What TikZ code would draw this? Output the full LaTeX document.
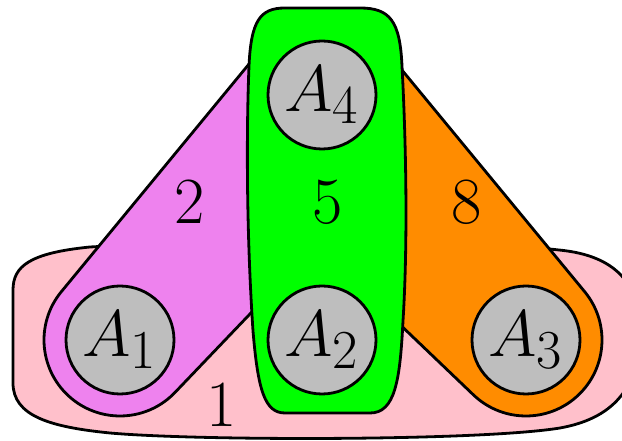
\documentclass[tikz,border=0pt]{standalone}
\usepackage{graphicx}
\definecolor{pinkfill}{RGB}{255,192,203}
\definecolor{violetfill}{RGB}{238,130,238}
\definecolor{greenfill}{RGB}{0,255,0}
\definecolor{orangefill}{RGB}{255,140,0}
\definecolor{vertfill}{RGB}{190,190,190}
\newcommand{\bigtxt}[1]{\scalebox{2.65}{\Huge #1}}
\tikzset{
  edgeshape/.style={draw=black, line width=2.8pt, line join=round},
  vert/.style={circle, draw=black, fill=vertfill, line width=2.8pt, minimum size=108pt, inner sep=0pt},
  elabel/.style={inner sep=0pt}
}
\begin{document}
\begin{tikzpicture}[x=1pt,y=1pt]
\useasboundingbox (0,0) rectangle (622,441);
% hyperedge 1 (pink)
\draw[edgeshape, fill=pinkfill] (13,58) -- (13,151)
  .. controls (13,175) and (30,188) .. (90,194)
  .. controls (250,203) and (450,203) .. (559,191)
  .. controls (600,187) and (640,170) .. (640,110)
  .. controls (640,50) and (610,22) .. (560,13)
  .. controls (480,0) and (200,0) .. (110,8)
  .. controls (50,14) and (13,25) .. (13,58) -- cycle;
% hyperedge 2 (violet)
\draw[edgeshape, fill=violetfill] (120,101) ++(140.6:76)
  arc[start angle=140.6, end angle=316.3, radius=76]
  -- ++(46.3:180) -- (300,400) -- (268,400) -- cycle;
% hyperedge 8 (orange)
\draw[edgeshape, fill=orangefill] (526,101) ++(226.5:76)
  arc[start angle=226.5, end angle=399.4, radius=76]
  -- (378,400) -- (345,400) -- (345,169) -- cycle;
% hyperedge 5 (green)
\draw[edgeshape, fill=greenfill] (285,433) -- (360,433)
  .. controls (390,433) and (400,420) .. (402,375)
  .. controls (406,300) and (408,200) .. (403,120)
  .. controls (400,60) and (395,28) .. (370,28)
  -- (285,28)
  .. controls (265,28) and (258,50) .. (253,110)
  .. controls (247,200) and (246,300) .. (249,375)
  .. controls (251,420) and (260,433) .. (285,433) -- cycle;
% vertices
\node[vert] (A1) at (120,101) {\bigtxt{$A_1$}};
\node[vert] (A2) at (322,101) {\bigtxt{$A_2$}};
\node[vert] (A3) at (526,101) {\bigtxt{$A_3$}};
\node[vert] (A4) at (322,346) {\bigtxt{$A_4$}};
% edge labels
\node[elabel] (l1) at (222,36) {\bigtxt{$1$}};
\node[elabel] (l2) at (190,239) {\bigtxt{$2$}};
\node[elabel] (l5) at (328,239) {\bigtxt{$5$}};
\node[elabel] (l8) at (467,239) {\bigtxt{$8$}};
\end{tikzpicture}
\end{document}
